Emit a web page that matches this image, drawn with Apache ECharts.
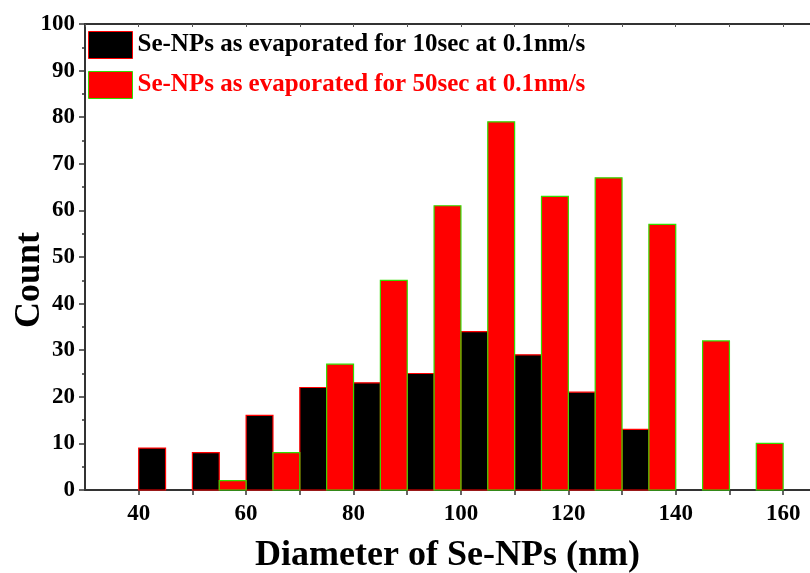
<!DOCTYPE html>
<html>
<head>
<meta charset="utf-8">
<script src="https://cdn.jsdelivr.net/npm/echarts@6/dist/echarts.min.js"></script>
<style>html,body{margin:0;padding:0;background:#fff;}#c{width:810px;height:573px;}</style>
</head>
<body>
<div id="c"></div>
<script>
// Bin start (nm), bin width 5 nm
var binWidth = 5;
var bins10 = [40, 50, 60, 70, 80, 90, 100, 110, 120, 130];
var counts10 = [9, 8, 16, 22, 23, 25, 34, 29, 21, 13];
var bins50 = [55, 65, 75, 85, 95, 105, 115, 125, 135, 145, 155];
var counts50 = [2, 8, 27, 45, 61, 79, 63, 67, 57, 32, 10];
var name10 = 'Se-NPs as evaporated for 10sec at 0.1nm/s';
var name50 = 'Se-NPs as evaporated for 50sec at 0.1nm/s';
var xTitle = 'Diameter of Se-NPs (nm)';
var yTitle = 'Count';

var font = '"Liberation Serif", "Times New Roman", serif';

function toData(bins, counts) {
  return bins.map(function (b, i) { return [b, b + binWidth, counts[i]]; });
}
function makeRender(fill, stroke) {
  return function (params, api) {
    var p0 = api.coord([api.value(0), 0]);
    var p1 = api.coord([api.value(1), api.value(2)]);
    return {
      type: 'rect',
      shape: { x: p0[0], y: p1[1], width: p1[0] - p0[0], height: p0[1] - p1[1] },
      style: { fill: fill, stroke: stroke, lineWidth: 1.2 }
    };
  };
}

var chart = echarts.init(document.getElementById('c'), null, { renderer: 'canvas' });
chart.setOption({
  backgroundColor: '#fff',
  animation: false,
  grid: { left: 85, right: 0, top: 24, bottom: 83, containLabel: false, outerBoundsMode: 'none' },
  legend: {
    left: 83, top: 26, orient: 'vertical',
    itemWidth: 44, itemHeight: 27, itemGap: 12,
    textStyle: { fontFamily: font, fontWeight: 'bold', fontSize: 25 },
    data: [
      { name: name10, icon: 'rect', itemStyle: { color: '#000', borderColor: '#ff0000', borderWidth: 1 }, textStyle: { color: '#000' } },
      { name: name50, icon: 'rect', itemStyle: { color: '#ff0000', borderColor: '#33dd00', borderWidth: 1 }, textStyle: { color: '#ff0000' } }
    ]
  },
  xAxis: [{
    type: 'value', position: 'bottom', min: 30, max: 165, interval: 10,
    splitLine: { show: false },
    axisLine: { show: true, onZero: false, lineStyle: { color: '#333', width: 2 } },
    axisTick: { show: true, inside: false, length: 5, lineStyle: { color: '#333', width: 1.5 } },
    axisLabel: {
      fontFamily: font, fontWeight: 'bold', fontSize: 23, color: '#000', margin: 13,
      showMaxLabel: false, showMinLabel: false,
      formatter: function (v) { return (v % 20 === 0) ? String(v) : ''; }
    },
    name: xTitle, nameLocation: 'middle', nameGap: 48, nameMoveOverlap: false,
    nameTextStyle: { fontFamily: font, fontWeight: 'bold', fontSize: 36, color: '#000' }
  }, {
    type: 'value', position: 'top', min: 30, max: 165, interval: 10,
    splitLine: { show: false },
    axisLine: { show: true, onZero: false, lineStyle: { color: '#333', width: 2 } },
    axisTick: { show: true, inside: true, length: 3, lineStyle: { color: '#555', width: 1 } },
    axisLabel: { show: false }
  }],
  yAxis: [{
    type: 'value', min: 0, max: 100, interval: 10,
    splitLine: { show: false },
    axisLine: { show: true, onZero: false, lineStyle: { color: '#333', width: 2 } },
    axisTick: { show: true, inside: false, length: 6, lineStyle: { color: '#333', width: 1.5 } },
    minorTick: { show: true, splitNumber: 2, length: 3, lineStyle: { color: '#333', width: 1.5 } },
    axisLabel: { fontFamily: font, fontWeight: 'bold', fontSize: 23, color: '#000', margin: 10 },
    name: yTitle, nameLocation: 'middle', nameGap: 37, nameRotate: 90, nameMoveOverlap: false,
    nameTextStyle: { fontFamily: font, fontWeight: 'bold', fontSize: 36, color: '#000', padding: [0, 46, 0, 0] }
  }],
  series: [{
    name: name10, type: 'custom', xAxisIndex: 0, yAxisIndex: 0,
    itemStyle: { color: '#000', borderColor: '#ff0000' },
    renderItem: makeRender('#000', '#ff0000'),
    encode: { x: [0, 1], y: 2 },
    data: toData(bins10, counts10)
  }, {
    name: name50, type: 'custom', xAxisIndex: 0, yAxisIndex: 0,
    itemStyle: { color: '#ff0000', borderColor: '#33dd00' },
    renderItem: makeRender('#ff0000', '#33dd00'),
    encode: { x: [0, 1], y: 2 },
    data: toData(bins50, counts50)
  }]
});
</script>
</body>
</html>
